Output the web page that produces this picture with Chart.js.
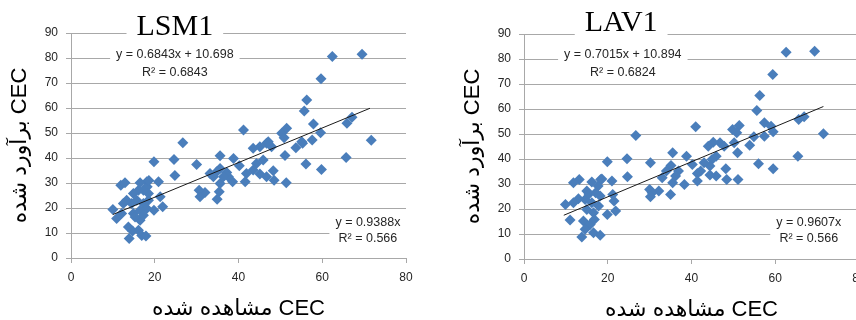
<!DOCTYPE html>
<html>
<head>
<meta charset="utf-8">
<script src="https://cdn.jsdelivr.net/npm/chart.js@4"></script>
<style>
  body { margin: 0; background: #fff; }
  #wrap { position: relative; width: 856px; height: 320px; overflow: hidden; }
  canvas { position: absolute; }
  #chartLSM { left: 0; top: 0; }
  #chartLAV { left: 453px; top: 1px; }
</style>
</head>
<body>
<div id="wrap">
  <canvas id="chartLSM" width="453" height="320"></canvas>
  <canvas id="chartLAV" width="453" height="320"></canvas>
</div>
<script>
// LSM1: observed vs estimated CEC
const lsmObserved = [62.4, 69.5, 59.7, 56.3, 55.7, 57.9, 59.6, 71.7, 57.6, 67.1, 65.9, 65.7, 56.1, 59.8, 55.3, 53.7,
    51.5, 50.3, 50.9, 51.1, 51.4, 48.3, 48.5, 46.7, 47.9, 45.1, 43.5, 45.9, 44.3, 43.5, 41.9, 41.6, 45.1, 46.7,
    41.2, 38.8, 40.2, 38.6, 35.6, 37.2, 37.6, 35.6, 34.8, 33.2, 34.0, 35.6, 35.4, 34.9, 32.0, 30.6, 30.8, 30.0,
    26.7, 24.6, 24.8, 19.8, 20.9, 21.3, 21.9, 19.8, 18.1, 18.2, 18.5, 17.3, 16.5, 16.1, 14.9, 15.7, 14.5, 17.3,
    18.1, 16.5, 14.9, 13.3, 12.5, 11.9, 12.9, 10.0, 10.9, 12.1, 13.7, 14.7, 13.9, 16.1, 16.9, 17.9, 16.5, 15.3,
    17.3, 18.5, 18.6, 47.1, 36.4, 55.1];
const lsmEstimated = [80.6, 81.5, 71.7, 63.2, 58.8, 53.6, 50.1, 47.1, 47.2, 56.3, 53.9, 40.2, 37.6, 35.4, 45.9, 44.1,
    51.9, 49.9, 48.1, 41.0, 30.1, 34.9, 31.1, 45.9, 44.5, 44.5, 43.9, 39.2, 37.8, 35.2, 33.8, 30.5, 33.6, 32.5,
    51.2, 39.8, 36.9, 30.5, 40.9, 34.2, 32.5, 35.8, 34.5, 33.8, 32.5, 29.8, 26.5, 23.5, 26.2, 27.1, 24.5, 37.4,
    46.1, 39.4, 33.0, 38.5, 30.5, 24.5, 20.5, 19.1, 30.5, 28.5, 25.8, 27.1, 30.1, 27.1, 25.8, 23.1, 21.8, 21.8,
    19.8, 19.1, 17.8, 23.1, 21.8, 29.1, 30.1, 19.4, 15.8, 17.8, 12.4, 10.8, 7.8, 11.1, 9.0, 8.8, 15.1, 16.4,
    17.1, 23.1, 31.0, 46.5, 32.5, 46.5];
const lsmTrendX = [10.0, 71.4];
const lsmTrendY = [17.4, 59.9];

// LAV1: observed vs estimated CEC
const lavObserved = [62.6, 69.4, 59.4, 56.3, 55.6, 57.4, 59.0, 59.5, 57.4, 54.9, 53.9, 71.5, 65.6, 66.9, 65.4, 56.0,
    59.5, 51.4, 49.8, 50.8, 50.2, 51.0, 51.1, 48.2, 48.4, 46.8, 47.8, 45.2, 44.0, 45.9, 44.9, 44.4, 43.0, 42.2,
    41.4, 45.9, 44.4, 41.4, 41.0, 40.2, 38.8, 38.3, 35.5, 35.1, 36.9, 36.2, 34.0, 33.0, 35.5, 35.0, 32.2, 30.2,
    30.0, 30.6, 30.2, 26.7, 24.6, 24.7, 19.9, 21.0, 21.2, 21.5, 21.9, 19.9, 18.3, 17.7, 16.2, 17.1, 18.2, 15.0,
    14.6, 16.2, 17.8, 15.0, 16.6, 13.2, 11.8, 13.0, 11.8, 9.9, 11.0, 14.2, 15.8, 14.6, 16.6, 18.2, 13.8, 16.8,
    18.6, 15.5];
const lavEstimated = [82.7, 83.1, 73.8, 65.4, 59.4, 54.5, 53.1, 50.9, 49.1, 48.9, 45.5, 50.1, 55.8, 56.9, 41.1, 38.1,
    36.1, 53.4, 51.8, 50.5, 46.5, 42.5, 31.8, 36.1, 31.8, 46.5, 45.1, 46.7, 45.1, 41.1, 39.8, 37.2, 38.5, 35.2,
    34.2, 33.2, 33.6, 31.2, 52.9, 37.8, 41.1, 29.8, 42.5, 37.4, 35.2, 33.2, 35.2, 32.5, 30.5, 25.8, 27.2, 38.5,
    27.8, 26.5, 24.9, 49.4, 40.1, 32.9, 38.9, 31.2, 25.8, 23.2, 19.2, 17.8, 31.8, 29.2, 30.8, 26.5, 25.2, 27.2,
    23.8, 22.5, 21.2, 19.8, 18.5, 31.8, 30.5, 24.1, 22.5, 21.8, 15.6, 15.2, 13.8, 11.9, 10.5, 9.5, 8.8, 15.8,
    32.0, 26.0];
const lavTrendX = [9.5, 71.5];
const lavTrendY = [17.5, 61.0];

const xTicks = [0, 20, 40, 60, 80];
const yTicks = [0, 10, 20, 30, 40, 50, 60, 70, 80, 90];

const SANS = '"Liberation Sans", "DejaVu Sans", sans-serif';
const gridColor = '#a8a8a8';

// white-boxed text labels drawn over the gridlines (title, equations)
const boxLabels = {
    id: 'boxLabels',
    beforeDatasetsDraw(chart, args, opts) {
        const { ctx, chartArea } = chart;
        const xs = chart.scales.x, ys = chart.scales.y;
        (opts.items || []).forEach(item => {
            ctx.save();
            ctx.font = item.font;
            const cx = xs.getPixelForValue(item.x);
            const cy = ys.getPixelForValue(item.y);
            const widths = item.lines.map(t => ctx.measureText(t).width);
            const w = Math.max(...widths);
            const h = item.gap * item.lines.length;
            const boxLeft = cx - w / 2 - item.pad;
            const boxRight = item.toEdge ? chartArea.right + 1 : cx + w / 2 + item.pad;
            ctx.fillStyle = '#fff';
            ctx.fillRect(boxLeft, cy - item.gap / 2 - 2, boxRight - boxLeft, h + 2);
            ctx.fillStyle = item.color;
            ctx.textBaseline = 'middle';
            ctx.textAlign = 'center';
            item.lines.forEach((t, i) => ctx.fillText(t, cx, cy + i * item.gap));
            ctx.restore();
        });
    }
};

function makeChart(id, observed, estimated, trendX, trendY, labels) {
    const points = observed.map((v, i) => ({ x: v, y: estimated[i] }));
    const trend = trendX.map((v, i) => ({ x: v, y: trendY[i] }));
    return new Chart(document.getElementById(id), {
        type: 'scatter',
        data: {
            datasets: [
                {
                    type: 'line',
                    data: trend,
                    borderColor: '#1a1a1a',
                    borderWidth: 1,
                    pointRadius: 0,
                    fill: false,
                },
                {
                    data: points,
                    pointStyle: 'rectRot',
                    pointRadius: 5.5,
                    backgroundColor: '#4a7ebb',
                    borderColor: '#4a7ebb',
                    borderWidth: 0,
                }
            ]
        },
        options: {
            responsive: false,
            animation: false,
            layout: { padding: { top: 33, right: 47, bottom: 0, left: 0 } },
            plugins: {
                legend: { display: false },
                tooltip: { enabled: false },
                boxLabels: { items: labels }
            },
            scales: {
                x: {
                    type: 'linear',
                    min: 0, max: 80,
                    afterBuildTicks: s => { s.ticks = xTicks.map(v => ({ value: v })); },
                    afterFit: s => { s.height = 62; },
                    ticks: { color: '#262626', font: { family: SANS, size: 12 }, padding: 7 },
                    grid: { drawOnChartArea: false, tickLength: 5, color: gridColor },
                    border: { color: gridColor },
                    title: {
                        display: true,
                        text: 'مشاهده شده CEC',
                        color: '#000',
                        font: { family: SANS, size: 22 },
                        padding: { top: 0, bottom: -2 }
                    }
                },
                y: {
                    min: 0, max: 90,
                    afterBuildTicks: s => { s.ticks = yTicks.map(v => ({ value: v })); },
                    afterFit: s => { s.width = 71; },
                    ticks: { color: '#262626', font: { family: SANS, size: 12 }, padding: 8 },
                    grid: { tickLength: 5, color: gridColor },
                    border: { color: gridColor },
                    title: {
                        display: true,
                        text: 'برآورد شده CEC',
                        color: '#000',
                        font: { family: SANS, size: 22 },
                        padding: { top: 7, bottom: 0 }
                    }
                }
            }
        },
        plugins: [boxLabels]
    });
}

makeChart('chartLSM', lsmObserved, lsmEstimated, lsmTrendX, lsmTrendY, [
    { lines: ['LSM1'], x: 24.8, y: 92.5, font: '30px "Liberation Serif"', color: '#000', gap: 30, pad: 10 },
    { lines: ['y = 0.6843x + 10.698', 'R² = 0.6843'], x: 24.8, y: 81.3, font: '12.5px ' + SANS, color: '#262626', gap: 18, pad: 6 },
    { lines: ['y = 0.9388x', 'R² = 0.566'], x: 70.9, y: 14.3, font: '12.5px ' + SANS, color: '#262626', gap: 16, pad: 6, toEdge: true }
]);

makeChart('chartLAV', lavObserved, lavEstimated, lavTrendX, lavTrendY, [
    { lines: ['LAV1'], x: 23.2, y: 94.5, font: '30px "Liberation Serif"', color: '#000', gap: 30, pad: 10 },
    { lines: ['y = 0.7015x + 10.894', 'R² = 0.6824'], x: 23.6, y: 81.8, font: '12.5px ' + SANS, color: '#262626', gap: 18, pad: 6 },
    { lines: ['y = 0.9607x', 'R² = 0.566'], x: 68.0, y: 14.6, font: '12.5px ' + SANS, color: '#262626', gap: 16, pad: 6, toEdge: true }
]);
</script>
</body>
</html>
